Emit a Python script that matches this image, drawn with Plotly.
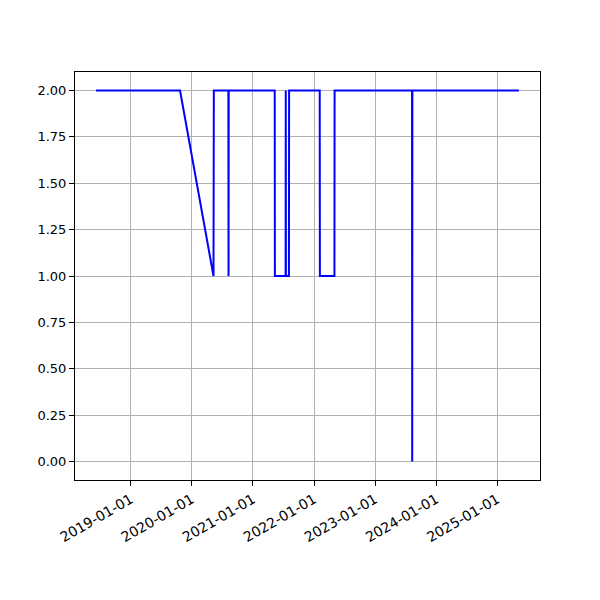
import plotly.graph_objects as go

dates = [
    "2018-06-08", "2019-10-23", "2020-05-10", "2020-05-12", "2020-08-07", "2020-08-08",
    "2020-08-09", "2021-05-11", "2021-05-12", "2021-07-15", "2021-07-16", "2021-07-17",
    "2021-08-04", "2021-08-05", "2022-02-04", "2022-02-05", "2022-05-03", "2022-05-04",
    "2023-08-10", "2023-08-11", "2023-08-12", "2025-05-10",
]
values = [
    2, 2, 1, 2, 2, 1,
    2, 2, 1, 1, 2, 1,
    1, 2, 2, 1, 1, 2,
    2, 0, 2, 2,
]
x_ticks = ["2019-01-01", "2020-01-01", "2021-01-01", "2022-01-01", "2023-01-01", "2024-01-01", "2025-01-01"]
y_ticks = [0, 0.25, 0.5, 0.75, 1.0, 1.25, 1.5, 1.75, 2.0]

fig = go.Figure()
fig.add_trace(go.Scatter(x=dates, y=values, mode="lines",
                         line=dict(color="#0000ff", width=2), showlegend=False))

font = dict(family="DejaVu Sans", size=13, color="black")
fig.update_layout(
    width=600, height=600,
    margin=dict(l=67, r=68, t=64, b=128),
    plot_bgcolor="white", paper_bgcolor="white",
    font=font,
)
fig.update_xaxes(
    type="date", range=["2018-02-02", "2025-09-13"],
    tickvals=x_ticks, ticktext=x_ticks, tickangle=-30, automargin=False,
    tickfont=dict(size=14),
    showgrid=True, gridcolor="#b0b0b0", gridwidth=1,
    showline=True, linecolor="black", linewidth=1, mirror=True,
    ticks="outside", ticklen=5, tickcolor="black", zeroline=False,
)
fig.update_yaxes(
    range=[-0.1, 2.1], tickvals=y_ticks, tickformat=".2f", automargin=False,
    showgrid=True, gridcolor="#b0b0b0", gridwidth=1,
    showline=True, linecolor="black", linewidth=1, mirror=True,
    ticks="outside", ticklen=5, tickcolor="black", zeroline=False,
)
fig.write_html("out.html")
